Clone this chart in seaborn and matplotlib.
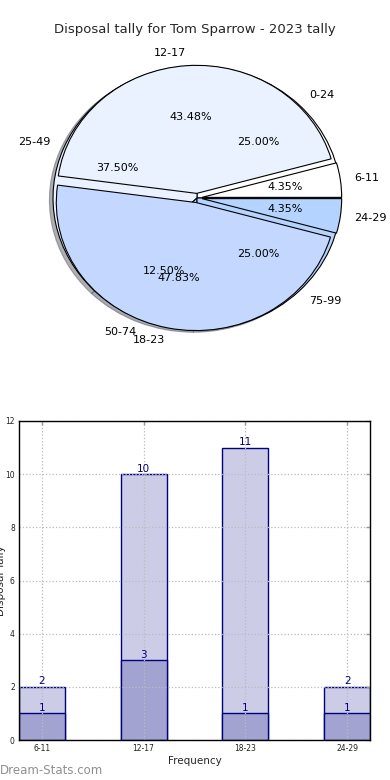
import matplotlib
matplotlib.use('Agg')
import matplotlib.pyplot as plt
import seaborn as sns

title = "Disposal tally for Tom Sparrow - 2023 tally"
pct_labels = ["0-24", "25-49", "50-74", "75-99"]
pct_counts = [2, 3, 1, 2]
freq_labels = ["6-11", "12-17", "18-23", "24-29"]
freq_counts = [1, 10, 11, 1]
bar_total = [2, 10, 11, 2]
bar_part = [1, 3, 1, 1]
pie_colors = ["#ffffff", "#eaf1ff", "#c4d8ff", "#b5d3ff"]

sns.set_style('white')
plt.rcParams['font.family'] = ['DejaVu Sans']

fig = plt.figure(figsize=(3.9, 7.8), dpi=100)

# ---- pie section ----
ax1 = fig.add_axes([17/390, 1-363/780, 360/390, 330/780])
wp = dict(edgecolor='black', linewidth=0.8)
ax1.pie(pct_counts, labels=pct_labels, colors=pie_colors, autopct='%1.2f%%',
        shadow=dict(ox=-0.018, oy=-0.012, shade=0.6), startangle=0, counterclock=True,
        radius=1.0, labeldistance=1.1, pctdistance=0.6, wedgeprops=wp,
        textprops=dict(fontsize=8, color='black'))
ax1.pie(freq_counts, labels=freq_labels, colors=pie_colors, autopct='%1.2f%%',
        explode=[0.035]*4, startangle=0, counterclock=True, radius=0.97,
        labeldistance=1.1, pctdistance=0.6, wedgeprops=wp,
        textprops=dict(fontsize=8, color='black'))
ax1.set_aspect('auto')
ax1.set_xlim(-1.25, 1.25)
ax1.set_ylim(-1.25, 1.25)
ax1.axis('off')
fig.text(0.5, 1-30/780, title, ha='center', va='center', fontsize=9.5)

# ---- bar section ----
ax2 = fig.add_axes([19/390, 40/780, 351/390, 319/780])
sns.barplot(x=freq_labels, y=bar_total, color='#cccce6', saturation=1,
            width=0.45, edgecolor='#000080', linewidth=1, ax=ax2)
sns.barplot(x=freq_labels, y=bar_part, color='#a3a3d1', saturation=1,
            width=0.45, edgecolor='#000080', linewidth=1, ax=ax2)
for i, v in enumerate(bar_total):
    ax2.text(i, v + 0.02, str(v), ha='center', va='bottom', color='#000080', fontsize=7.5)
for i, v in enumerate(bar_part):
    ax2.text(i, v + 0.02, str(v), ha='center', va='bottom', color='#000080', fontsize=7.5)
ax2.set_xlim(-0.225, 3.225)
ax2.set_ylim(0, 12)
ax2.set_yticks(range(0, 13, 2))
ax2.set_axisbelow(False)
ax2.grid(True, linestyle=':', color='#bbbbbb', linewidth=0.9)
for s in ax2.spines.values():
    s.set_color('black')
    s.set_linewidth(1)
    s.set_zorder(5)
ax2.tick_params(direction='in', top=True, right=True, length=3, width=1,
                color='#999999', labelsize=5.5, labelcolor='#222222', pad=3)
ax2.set_xlabel('Frequency', fontsize=7.5, labelpad=2)
ax2.set_ylabel('Disposal Tally', fontsize=7.5)
ax2.yaxis.set_label_coords(-0.037, 0.5)

fig.text(0.0, 1-770/780, 'Dream-Stats.com', ha='left', va='center',
         fontsize=8.5, color='#8f8f8f')

fig.savefig('out.png', dpi=100)
